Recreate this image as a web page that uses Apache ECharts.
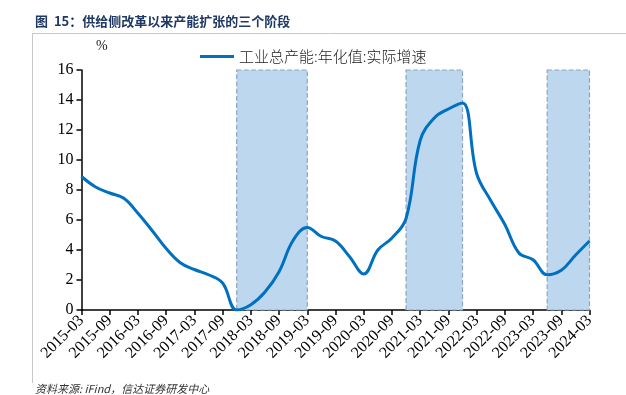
<!DOCTYPE html>
<html><head><meta charset="utf-8">
<script src="https://cdn.jsdelivr.net/npm/echarts@6/dist/echarts.min.js"></script>
<style>html,body{margin:0;padding:0;background:#fff}#c{width:626px;height:395px}</style>
</head><body><div id="c"></div>
<script>
const categories = [];
for (let y = 2015; y <= 2024; y++) {
  for (const m of ['03','06','09','12']) {
    if (y === 2024 && m !== '03') continue;
    categories.push(y + '-' + m);
  }
}
const capacityGrowth = [8.9,8.2,7.8,7.45,6.45,5.3,4.1,3.15,2.7,2.35,1.8,0.0,
  0.35,1.2,2.55,4.65,5.5,4.9,4.6,3.55,2.4,4.0,4.8,6.1,
  11.3,12.8,13.4,13.8,9.1,7.3,5.7,3.8,3.35,2.35,2.65,3.65,4.6];
const bands = [['2017-12','2019-03'],['2020-12','2021-12'],['2023-06','2024-03']];
const yTicks = [0,2,4,6,8,10,12,14,16];

const chart = echarts.init(document.getElementById('c'));
const serif = 'Liberation Serif';
chart.setOption({
  animation:false,
  graphic:[
    {type:'text',left:35,top:15,style:{text:'图  15：供给侧改革以来产能扩张的三个阶段',fill:'#1F3864',font:'bold 13px "Noto Sans CJK SC"'}},
    {type:'line',shape:{x1:33,y1:33.5,x2:626,y2:33.5},style:{stroke:'#c8c8c8',lineWidth:1}},
    {type:'line',shape:{x1:32.5,y1:33,x2:32.5,y2:383},style:{stroke:'#c8c8c8',lineWidth:1}},
    {type:'text',left:96,top:39,style:{text:'%',fill:'#222',font:'14px '+serif}},
    {type:'text',left:35,top:383,style:{text:'资料来源: iFind，信达证券研发中心',fill:'#333',font:'italic 11px "Noto Sans CJK SC"'}}
  ],
  legend:{top:44,left:195,itemWidth:34,itemHeight:3,icon:'rect',itemGap:4,
    textStyle:{fontFamily:'Noto Sans CJK SC',fontSize:15,color:'#222',fontWeight:300}},
  grid:{left:81.5,right:36.5,top:70,bottom:85,containLabel:false},
  xAxis:{type:'category',data:categories,boundaryGap:false,
    axisLine:{lineStyle:{color:'#000',width:1.5}},
    axisTick:{show:true,interval:1,length:5,lineStyle:{color:'#000',width:1.5}},
    axisLabel:{interval:1,rotate:45,fontFamily:serif,fontSize:16,color:'#000',margin:8}},
  yAxis:{type:'value',min:0,max:16,interval:2,
    axisLine:{show:true,lineStyle:{color:'#000',width:1.5}},
    axisTick:{show:true,length:5,lineStyle:{color:'#000',width:1.5}},
    splitLine:{show:false},
    axisLabel:{fontFamily:serif,fontSize:16,color:'#000',margin:8}},
  series:[{name:'工业总产能:年化值:实际增速',type:'line',data:capacityGrowth,smooth:0.4,
    symbol:'none',lineStyle:{color:'#0070C0',width:3},itemStyle:{color:'#0070C0'},
    markArea:{silent:true,itemStyle:{color:'#BDD7EE',borderColor:'#8EA3BE',borderWidth:1.2,borderType:'dashed'},
      data:bands.map(b=>[{xAxis:b[0],yAxis:16},{xAxis:b[1],yAxis:0}])},
    z:3}]
});
</script></body></html>
